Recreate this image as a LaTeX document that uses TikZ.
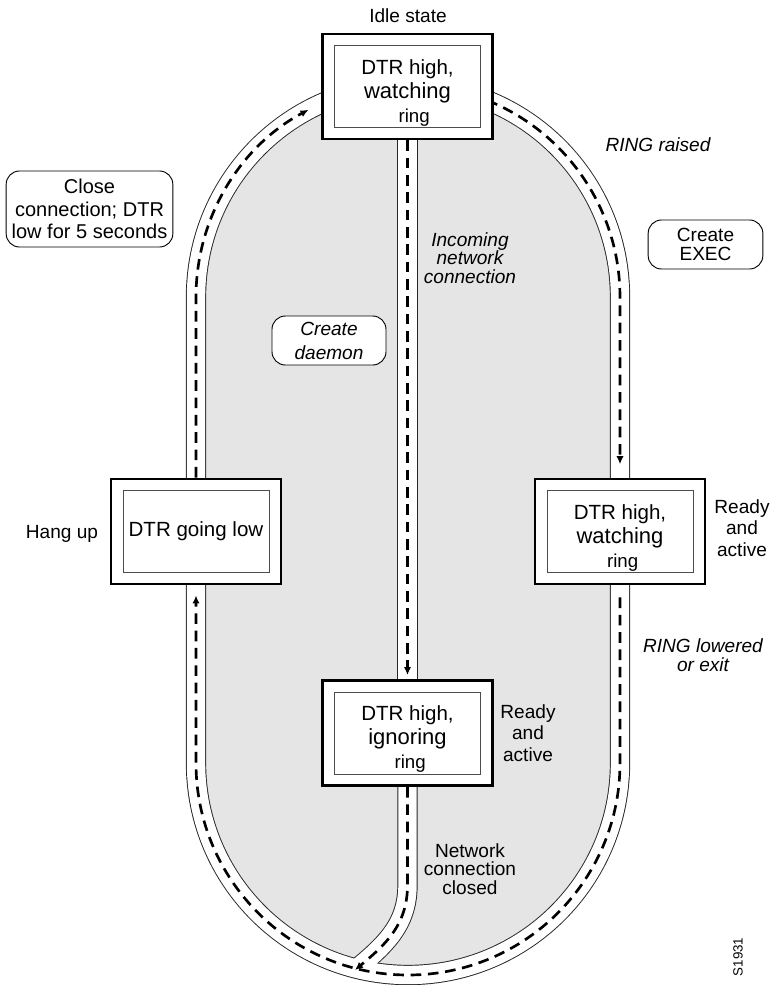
\documentclass[tikz,border=0pt]{standalone}
\usepackage{fontspec}
\setmainfont{Liberation Sans}
\usetikzlibrary{arrows.meta,positioning}
\definecolor{trackgray}{RGB}{229,229,229}

\tikzset{
  roadedge/.style={line width=15.2pt, draw=black!85},
  roadbed/.style={line width=13.8pt, draw=white},
  flow/.style={line width=2pt, dash pattern=on 8pt off 5pt},
  flowarrow/.style={flow, -{Latex[length=6pt,width=5.5pt]}},
  frame/.style={draw, line width=2.2pt, fill=white, minimum width=127.5pt, minimum height=78.75pt},
  innerbox/.style={draw=black!70, line width=0.7pt, minimum width=109.5pt, minimum height=61.5pt},
  statetext/.style={align=center, inner sep=0pt, font=\fontsize{15.4}{18}\selectfont},
  action/.style={draw, line width=0.7pt, rounded corners=10pt, fill=white, align=center, inner sep=0pt},
  lbl/.style={align=center, inner sep=0pt, font=\fontsize{14.3}{14}\selectfont},
  lblit/.style={lbl, font=\fontsize{14.3}{14}\selectfont\itshape},
  readylbl/.style={lbl, font=\fontsize{14.3}{16}\selectfont},
}
\newcommand{\midline}{\fontsize{16.5}{18}\selectfont}
\newcommand{\lastline}{\fontsize{14}{18}\selectfont}

\begin{document}
\begin{tikzpicture}[x=0.75pt,y=-0.75pt]
\useasboundingbox (0,0) rectangle (772,985);

% Inside of the track
\fill[trackgray] (205.5,297) arc[start angle=180,end angle=360,radius=202.5]
  -- (610.5,763) arc[start angle=0,end angle=180,radius=202.5] -- cycle;

% State boxes (placed first so the roads can use their anchors)
\node[frame] (idle) at (407.5,86.5) {};
\node[frame] (hangup) at (196,531.5) {};
\node[frame] (watching) at (620,531.5) {};
\node[frame] (ignoring) at (407.5,733) {};

% Roads: borders, then the white road bed
\draw[roadedge] (196,297) arc[start angle=180,end angle=360,radius=212]
  -- (620,763) arc[start angle=0,end angle=180,radius=212] -- cycle;
\draw[roadedge] (idle.south) -- (ignoring.north);
\draw[roadedge] (ignoring.south) -- (407.5,885) .. controls (407.5,925) and (385,945) .. (355,970);
\draw[roadbed] (196,297) arc[start angle=180,end angle=360,radius=212]
  -- (620,763) arc[start angle=0,end angle=180,radius=212] -- cycle;
\draw[roadbed] (idle.south) -- (ignoring.north);
\draw[roadbed] (ignoring.south) -- (407.5,885) .. controls (407.5,925) and (385,945) .. (355,970);

% Transitions
\draw[flowarrow] (hangup.north) -- (196,297) arc[start angle=180,end angle=242,radius=212];
\draw[flowarrow] (487.4,100.4) arc[start angle=292,end angle=360,radius=212] -- ([yshift=10pt]watching.north);
\draw[flowarrow] (idle.south) -- ([yshift=3pt]ignoring.north);
\draw[flowarrow] ([yshift=-9pt]watching.south) -- (620,763)
  arc[start angle=0,end angle=180,radius=212] -- ([yshift=-7.5pt]hangup.south);
\draw[flowarrow] (ignoring.south) -- (407.5,885) .. controls (407.5,925) and (385,945) .. (355,970);

% Boxes drawn again on top of the roads
\node[frame] at (idle) {};
\node[frame] at (hangup) {};
\node[frame] at (watching) {};
\node[frame] at (ignoring) {};
\node[innerbox] (idle-in) at (idle) {};
\node[innerbox] (hangup-in) at (hangup) {};
\node[innerbox] (watching-in) at (watching) {};
\node[innerbox] (ignoring-in) at (ignoring) {};

\node[statetext] (idle-t) at ([yshift=-4.5pt]idle.center) {DTR high,\\\midline watching\\\lastline\hspace{10pt}ring};
\node[statetext] (hangup-t) at (hangup) {DTR going low};
\node[statetext] (watching-t) at ([yshift=-4.5pt]watching.center) {DTR high,\\\midline watching\\\lastline\hspace{4pt}ring};
\node[statetext] (ignoring-t) at ([yshift=-4.5pt]ignoring.center) {DTR high,\\\midline ignoring\\\lastline\hspace{4pt}ring};

% Labels
\node[lbl] (idlelbl) at (408,16) {Idle state};
\node[lbl] (hanguplbl) at (62,534) {Hang up};
\node[readylbl] (readyw) at (742,528) {Ready\\and\\active};
\node[readylbl] (readyi) at (528,733) {Ready\\and\\active};
\node[lblit] (ringraised) at (658,145) {RING raised};
\node[lblit] (incoming) at (470,258) {Incoming\\network\\connection};
\node[lblit] (ringlowered) at (703,655) {RING lowered\\or exit};
\node[lbl] (netclosed) at (470,869) {Network\\connection\\closed};

% Actions
\node[action, minimum width=125pt, minimum height=57pt, font=\fontsize{15}{17}\selectfont] (closeconn) at (89.5,209) {Close\\connection; DTR\\low for 5 seconds};
\node[action, minimum width=86pt, minimum height=36.75pt, font=\fontsize{14.3}{14}\selectfont] (createexec) at (705.5,244.5) {Create\\EXEC};
\node[action, minimum width=85.5pt, minimum height=36.75pt, font=\fontsize{14.3}{18}\selectfont\itshape] (createdaemon) at (329,340.5) {Create\\daemon};

\node[rotate=90, inner sep=0pt, font=\fontsize{10}{12}\selectfont] (fignum) at (738,957) {S1931};
\end{tikzpicture}
\end{document}
